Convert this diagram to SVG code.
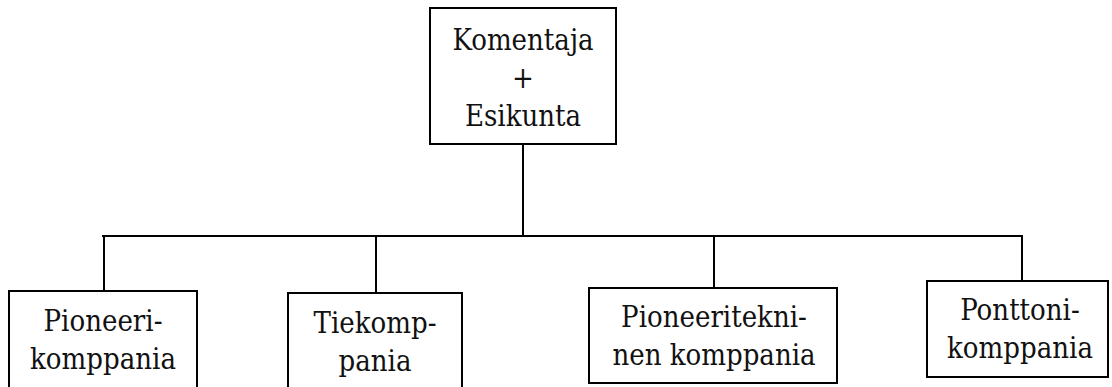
<svg xmlns="http://www.w3.org/2000/svg" width="1112" height="387" viewBox="0 0 1112 387">
<style>
.box{fill:#fff;stroke:#000;stroke-width:2}
.t{font-family:'DejaVu Serif Condensed','DejaVu Serif',serif;font-stretch:condensed;font-size:29px;fill:#111;text-anchor:middle}
.c{stroke:#000;stroke-width:2;fill:none}
</style>
<rect width="1112" height="387" fill="#fff"/>
<g id="connectors">
<line class="c" x1="523" y1="144" x2="523" y2="236"/>
<line class="c" x1="102" y1="236" x2="1023" y2="236"/>
<line class="c" x1="104" y1="236" x2="104" y2="291"/>
<line class="c" x1="376" y1="236" x2="376" y2="293"/>
<line class="c" x1="714" y1="236" x2="714" y2="288"/>
<line class="c" x1="1022" y1="236" x2="1022" y2="281"/>
</g>
<g id="hq">
<rect class="box" x="430" y="8" width="186" height="136"/>
<text class="t" x="523" y="50">Komentaja</text>
<text class="t" x="523" y="88">+</text>
<text class="t" x="523" y="126">Esikunta</text>
</g>
<g id="pioneerikomppania">
<rect class="box" x="9" y="291" width="188" height="110"/>
<text class="t" x="103" y="331">Pioneeri-</text>
<text class="t" x="103" y="369">komppania</text>
</g>
<g id="tiekomppania">
<rect class="box" x="288" y="293" width="174" height="110"/>
<text class="t" x="375" y="333">Tiekomp-</text>
<text class="t" x="375" y="371">pania</text>
</g>
<g id="pioneeritekninen">
<rect class="box" x="589" y="288" width="248" height="95"/>
<text class="t" x="714" y="327">Pioneeritekni-</text>
<text class="t" x="714" y="365">nen komppania</text>
</g>
<g id="ponttonikomppania">
<rect class="box" x="927" y="281" width="181" height="96"/>
<text class="t" x="1020" y="320">Ponttoni-</text>
<text class="t" x="1020" y="358">komppania</text>
</g>
</svg>
